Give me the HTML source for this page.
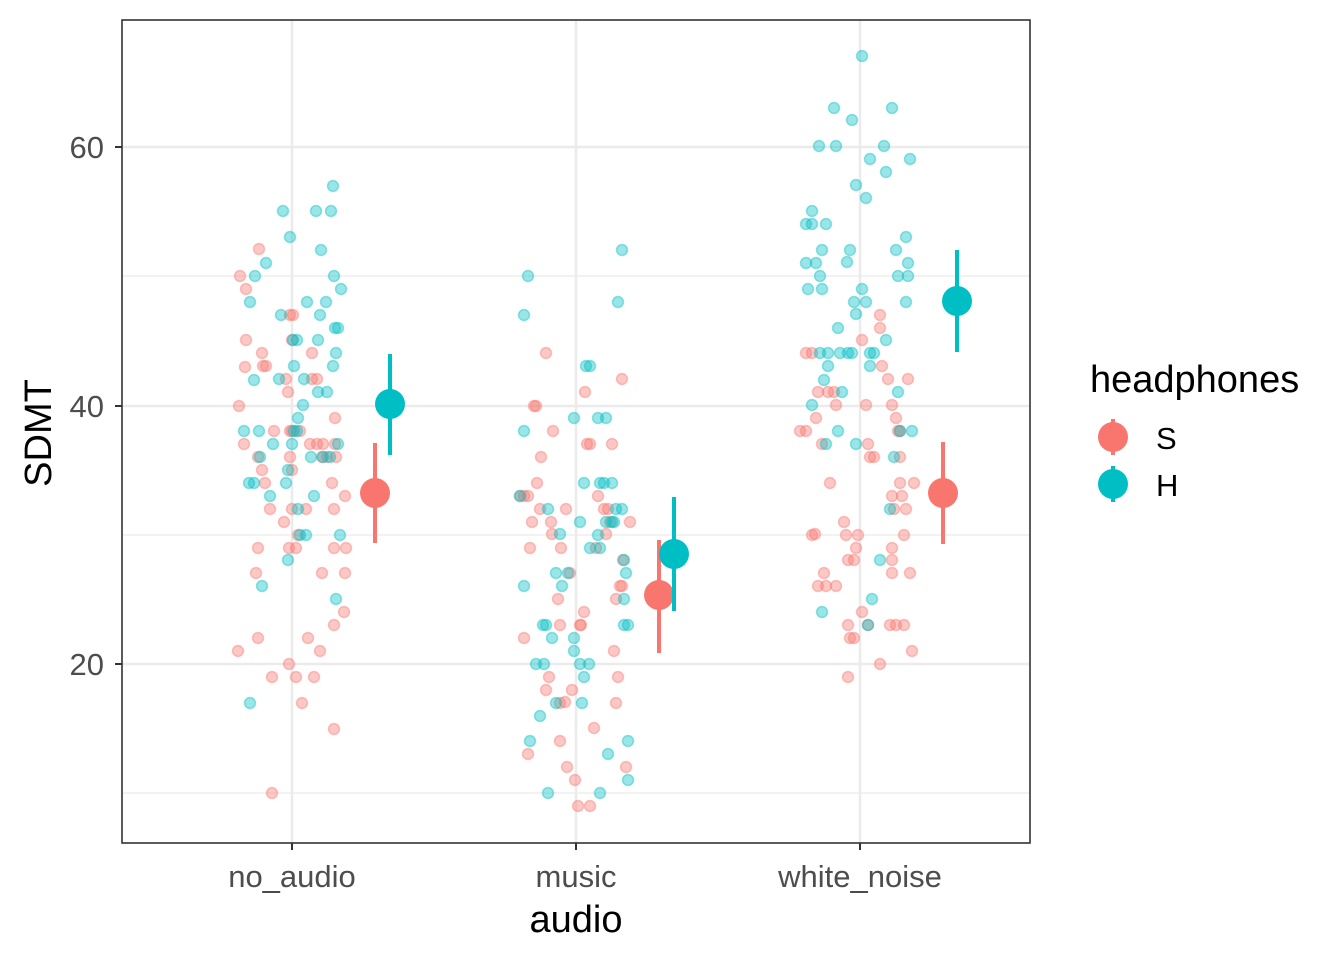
<!DOCTYPE html>
<html><head><meta charset="utf-8"><style>body{margin:0;background:#fff}svg{display:block}</style></head>
<body>
<svg id="s" width="1344" height="960" xmlns="http://www.w3.org/2000/svg" font-family="Liberation Sans, Arial, sans-serif">
<rect width="1344" height="960" fill="#fff"/>
<g stroke="#ebebeb" stroke-width="1.2">
<line x1="122" x2="1030" y1="276" y2="276"/><line x1="122" x2="1030" y1="535" y2="535"/><line x1="122" x2="1030" y1="793" y2="793"/>
</g>
<g stroke="#ebebeb" stroke-width="2.5">
<line x1="122" x2="1030" y1="147" y2="147"/><line x1="122" x2="1030" y1="406" y2="406"/><line x1="122" x2="1030" y1="664" y2="664"/>
<line x1="292" x2="292" y1="20" y2="843"/><line x1="576" x2="576" y1="20" y2="843"/><line x1="860" x2="860" y1="20" y2="843"/>
</g>
<g id="pts"></g>
<g id="sum"></g>
<rect x="122" y="20" width="908" height="823" fill="none" stroke="#333" stroke-width="1.6"/>
<g stroke="#333" stroke-width="2">
<line x1="115" x2="122" y1="147" y2="147"/><line x1="115" x2="122" y1="406" y2="406"/><line x1="115" x2="122" y1="664" y2="664"/>
<line x1="292" x2="292" y1="843" y2="850"/><line x1="576" x2="576" y1="843" y2="850"/><line x1="860" x2="860" y1="843" y2="850"/>
</g>
<g fill="#4d4d4d" font-size="31">
<text x="104" y="158" text-anchor="end">60</text><text x="104" y="417" text-anchor="end">40</text><text x="104" y="675" text-anchor="end">20</text>
<text x="292" y="887" text-anchor="middle">no_audio</text><text x="576" y="887" text-anchor="middle">music</text><text x="860" y="887" text-anchor="middle">white_noise</text>
</g>
<text x="576" y="932" text-anchor="middle" font-size="38">audio</text>
<text transform="translate(51,433) rotate(-90)" text-anchor="middle" font-size="38">SDMT</text>
<text x="1090" y="392" font-size="38">headphones</text>
<line x1="1113" x2="1113" y1="419" y2="455" stroke="#F8766D" stroke-width="4"/><circle cx="1113" cy="437" r="15" fill="#F8766D"/>
<line x1="1113" x2="1113" y1="466" y2="502" stroke="#00BFC4" stroke-width="4"/><circle cx="1113" cy="484" r="15" fill="#00BFC4"/>
<text x="1156" y="449" font-size="31">S</text><text x="1156" y="496" font-size="31">H</text>
</svg>
<script>
var R="#F8766D",T="#00BFC4";
var red=[[239,406],[246,289],[246,340],[245,367],[244,444],[258,457],[262,470],[258,548],[256,573],[238,651],[258,638],[272,677],[272,793],[289,664],[296,677],[302,703],[314,677],[320,651],[308,638],[334,729],[334,625],[344,612],[346,548],[334,548],[345,573],[345,496],[334,509],[332,483],[335,444],[335,418],[336,457],[296,548],[289,548],[284,522],[292,509],[292,470],[290,457],[310,444],[317,444],[292,431],[300,431],[274,431],[286,379],[290,431],[263,366],[266,366],[262,353],[292,340],[290,315],[293,315],[312,353],[317,379],[312,379],[270,509],[265,483],[288,392],[322,457],[322,573],[327,457],[323,444],[306,509],[298,535],[259,249],[240,276],
[528,496],[532,522],[540,509],[530,548],[524,638],[528,754],[552,534],[551,522],[546,353],[553,431],[541,457],[537,483],[561,548],[566,509],[558,599],[570,573],[560,625],[549,677],[546,690],[560,741],[567,767],[575,780],[578,806],[590,806],[572,690],[565,702],[581,625],[584,612],[585,392],[587,444],[590,444],[598,496],[604,509],[606,534],[608,509],[612,444],[610,522],[622,379],[623,560],[620,586],[616,599],[614,651],[618,677],[616,703],[626,767],[630,522],[622,586],[594,728],[596,548],[580,625],[536,406],[534,406],[524,496],[520,496],[560,703],
[806,353],[812,353],[806,431],[812,535],[815,534],[822,444],[826,586],[824,573],[830,483],[818,392],[828,392],[834,392],[836,405],[844,522],[846,535],[848,560],[854,560],[850,638],[848,677],[856,548],[858,535],[862,340],[866,405],[868,444],[870,457],[874,457],[880,315],[880,328],[882,366],[888,379],[892,405],[896,418],[898,431],[900,431],[900,457],[892,496],[894,509],[900,483],[902,496],[904,535],[906,509],[908,379],[914,483],[910,573],[912,651],[904,625],[896,625],[890,625],[892,573],[892,560],[892,548],[880,664],[868,625],[862,612],[854,638],[848,625],[836,586],[818,586],[800,431],[816,418]];
var teal=[[255,276],[250,302],[266,263],[283,211],[290,237],[316,211],[331,211],[321,250],[333,186],[334,276],[341,289],[326,302],[320,315],[338,328],[335,328],[336,353],[333,366],[307,302],[281,315],[293,340],[297,340],[318,340],[294,366],[304,379],[279,379],[254,380],[298,418],[303,405],[327,392],[318,392],[297,431],[294,431],[259,431],[244,431],[273,444],[292,444],[338,444],[260,457],[311,457],[323,457],[330,457],[288,470],[249,483],[254,483],[286,483],[270,496],[314,496],[298,509],[300,535],[306,535],[288,560],[262,586],[250,703],[336,599],[340,535],
[528,276],[524,315],[524,431],[520,496],[524,586],[548,509],[560,534],[556,573],[562,586],[543,625],[546,625],[552,638],[544,664],[536,664],[540,716],[530,741],[548,793],[556,703],[574,651],[580,664],[584,677],[582,703],[574,638],[568,573],[580,522],[584,483],[586,366],[590,366],[574,418],[598,418],[606,418],[600,483],[604,483],[612,483],[598,535],[606,522],[590,548],[600,548],[612,522],[614,522],[616,509],[622,509],[624,560],[626,573],[624,599],[624,625],[628,625],[618,302],[622,250],[608,754],[628,780],[628,741],[600,793],[589,664],
[862,56],[834,108],[852,120],[892,108],[819,146],[836,146],[870,159],[884,146],[910,159],[886,172],[856,185],[866,198],[812,211],[806,224],[812,224],[826,224],[850,250],[822,250],[806,263],[816,263],[820,276],[822,289],[808,289],[862,289],[854,302],[866,302],[906,302],[898,276],[908,276],[908,263],[896,250],[906,237],[838,328],[856,314],[886,340],[820,353],[828,353],[840,353],[848,353],[852,353],[870,353],[874,353],[828,366],[824,380],[842,392],[812,405],[838,431],[856,444],[912,431],[898,392],[894,457],[826,444],[890,509],[880,560],[872,599],[868,625],[822,612],[900,431],[847,262],[870,366]];
var g=document.getElementById("pts"),h="";
red.forEach(function(p){h+='<circle cx="'+p[0]+'" cy="'+p[1]+'" r="5.5" fill="'+R+'" fill-opacity="0.4" stroke="'+R+'" stroke-opacity="0.4" stroke-width="1.5"/>';});
teal.forEach(function(p){h+='<circle cx="'+p[0]+'" cy="'+p[1]+'" r="5.5" fill="'+T+'" fill-opacity="0.4" stroke="'+T+'" stroke-opacity="0.4" stroke-width="1.5"/>';});
g.innerHTML=h;
var s=[[375,493,443,543,R],[390,404,354,455,T],[659,595,540,653,R],[674,554,497,611,T],[943,493,442,544,R],[957,301,250,352,T]],k="";
s.forEach(function(a){k+='<line x1="'+a[0]+'" x2="'+a[0]+'" y1="'+a[2]+'" y2="'+a[3]+'" stroke="'+a[4]+'" stroke-width="4"/><circle cx="'+a[0]+'" cy="'+a[1]+'" r="15" fill="'+a[4]+'"/>';});
document.getElementById("sum").innerHTML=k;
</script>
</body></html>
